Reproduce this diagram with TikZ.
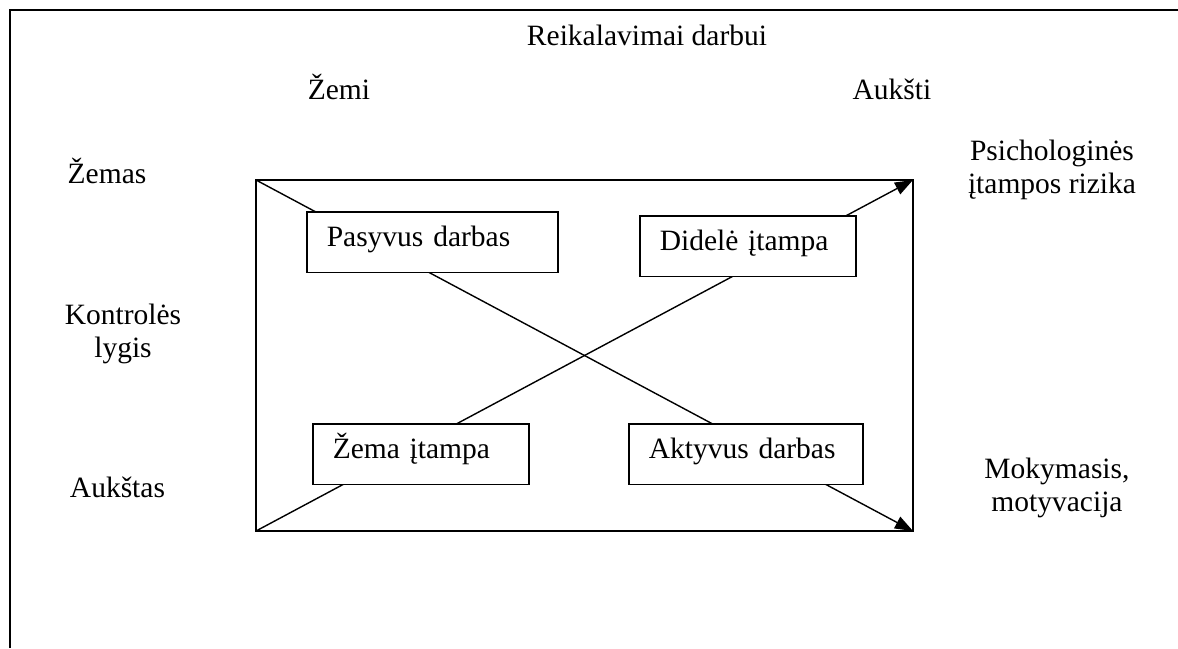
\documentclass[tikz,border=0pt]{standalone}
\usepackage{fontspec}
\setmainfont{Liberation Serif}
\usetikzlibrary{arrows.meta}

\tikzset{
  jobbox/.style={draw, line width=0.75pt, fill=white, anchor=north west, align=left,
    inner xsep=10pt, inner ysep=0pt, text height=17.25pt, text depth=13pt},
  axis/.style={anchor=base, align=center},
  diag/.style={line width=0.7pt, -{Triangle[length=9pt,width=6.5pt]}}
}

\begin{document}
\begin{tikzpicture}[x=0.5pt, y=-0.5pt, font=\fontsize{14.75}{16.5}\selectfont]
  \useasboundingbox (0,0) rectangle (1178,648);

  % Draw the outer frame
  \draw[line width=1pt] (10,648) -- (10,10) -- (1178,10);

  % Draw the inner square
  \coordinate (tl) at (256,180);
  \coordinate (tr) at (913,180);
  \coordinate (bl) at (256,531);
  \coordinate (br) at (913,531);
  \draw[line width=0.9pt] (tl) rectangle (br);

  % Draw the diagonals
  \draw[diag] (tl) -- (br);
  \draw[diag] (bl) -- (tr);

  % Draw the four job types
  \node[jobbox, text width=105.5pt] (pasyvus) at (306,211) {Pasyvus darbas};
  \node[jobbox, text width=88pt] (didele) at (639,215) {Didelė įtampa};
  \node[jobbox, text width=88pt] (zema) at (312,423) {Žema įtampa};
  \node[jobbox, text width=97pt] (aktyvus) at (628,423) {Aktyvus darbas};

  % Draw the axis labels
  \node[axis] (title) at (647,45) {Reikalavimai darbui};
  \node[axis] (zemi) at (339,99) {Žemi};
  \node[axis] (auksti) at (892,99) {Aukšti};
  \node[axis] (zemas) at (107,183) {Žemas};
  \node[axis] (kontrole) at (123,357) {Kontrolės\\lygis};
  \node[axis] (aukstas) at (117.5,497) {Aukštas};

  % Draw the outcomes
  \node[axis] (rizika) at (1052,193) {Psichologinės\\įtampos rizika};
  \node[axis] (mokymasis) at (1057,511) {Mokymasis,\\motyvacija};
\end{tikzpicture}
\end{document}
